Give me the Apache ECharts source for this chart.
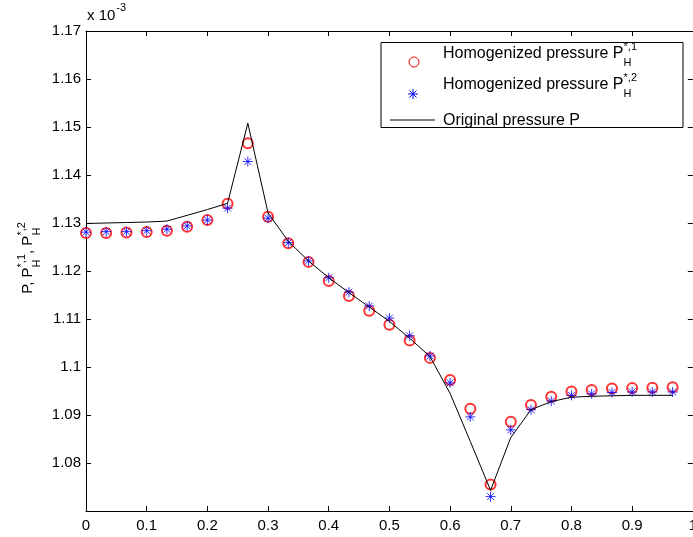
<!DOCTYPE html>
<html>
<head>
<meta charset="utf-8">
<script src="https://cdn.jsdelivr.net/npm/echarts@6/dist/echarts.min.js"></script>
<style>
html, body { margin: 0; padding: 0; overflow: hidden; background: #fff; }
#chart { width: 700px; height: 537px; }
</style>
</head>
<body>
<div id="chart"></div>
<script>
// Sample positions along the domain
const xPositions = [0, 0.0333, 0.0667, 0.1, 0.1333, 0.1667, 0.2, 0.2333, 0.2667, 0.3,
  0.3333, 0.3667, 0.4, 0.4333, 0.4667, 0.5, 0.5333, 0.5667, 0.6, 0.6333,
  0.6667, 0.7, 0.7333, 0.7667, 0.8, 0.8333, 0.8667, 0.9, 0.9333, 0.9667];

// Homogenized pressure P_H^{*,1}  (units of 1e-3)
const homogenized1 = [1.1279, 1.1279, 1.1280, 1.1281, 1.1284, 1.1292, 1.1306, 1.1340, 1.1466, 1.1313,
  1.1258, 1.1219, 1.1179, 1.1148, 1.1117, 1.1088, 1.1055, 1.1019, 1.0973, 1.0913,
  1.0755, 1.0886, 1.0921, 1.0938, 1.0949, 1.0952, 1.0955, 1.0956, 1.0957, 1.0958];

// Homogenized pressure P_H^{*,2}
const homogenized2 = [1.1281, 1.1282, 1.1282, 1.1284, 1.1287, 1.1294, 1.1306, 1.1331, 1.1428, 1.1310,
  1.1259, 1.1221, 1.1186, 1.1156, 1.1127, 1.1102, 1.1065, 1.1023, 1.0967, 1.0896,
  1.0730, 1.0869, 1.0911, 1.0929, 1.0941, 1.0944, 1.0947, 1.0948, 1.0948, 1.0948];

// Original pressure P
const original = [1.1299, 1.1300, 1.1301, 1.1302, 1.1304, 1.1316, 1.1328, 1.1341, 1.1508, 1.1321,
  1.1262, 1.1221, 1.1186, 1.1155, 1.1125, 1.1095, 1.1060, 1.1022, 1.0945, 1.0845,
  1.0743, 1.0853, 1.0911, 1.0928, 1.0937, 1.0939, 1.0940, 1.0941, 1.0941, 1.0941];

const xTicks = { min: 0, max: 1, step: 0.1 };
const yTicks = { min: 1.07, max: 1.17, step: 0.01 };

const FONT = '"Liberation Sans", Arial, Helvetica, sans-serif';
const ASTERISK = 'path://M5,0L5,10M0,5L10,5M1.6,1.6L8.4,8.4M1.6,8.4L8.4,1.6';

const pair = (xs, ys) => xs.map((x, i) => [x, ys[i]]);

// text width helper for placing sub/superscripts
const measureCtx = document.createElement('canvas').getContext('2d');
function textWidth(str, size) {
  measureCtx.font = size + 'px ' + FONT;
  return measureCtx.measureText(str).width;
}

// "base" followed by a stacked superscript / subscript, laid out left to right
function scriptRun(pieces, x0, yMid, baseSize, smallSize, supDy, subDy) {
  const out = [];
  let x = x0;
  pieces.forEach(p => {
    if (p.base) {
      out.push({ type: 'text', x: x, y: yMid,
        style: { text: p.base, font: baseSize + 'px ' + FONT, fill: '#000', textVerticalAlign: 'middle' } });
      x += textWidth(p.base, baseSize);
    } else {
      out.push({ type: 'text', x: x, y: yMid + supDy,
        style: { text: p.sup, font: smallSize + 'px ' + FONT, fill: '#000', textVerticalAlign: 'middle' } });
      out.push({ type: 'text', x: x, y: yMid + subDy,
        style: { text: p.sub, font: smallSize + 'px ' + FONT, fill: '#000', textVerticalAlign: 'middle' } });
      x += Math.max(textWidth(p.sup, smallSize), textWidth(p.sub, smallSize));
    }
  });
  return { elements: out, width: x - x0 };
}

// asterisk glyph built from four short strokes
function asteriskIcon(cx, cy, r, color) {
  const d = r * 0.7;
  const seg = (x1, y1, x2, y2) => ({ type: 'line', shape: { x1, y1, x2, y2 },
    style: { stroke: color, lineWidth: 1 } });
  return [
    seg(cx, cy - r, cx, cy + r), seg(cx - r, cy, cx + r, cy),
    seg(cx - d, cy - d, cx + d, cy + d), seg(cx - d, cy + d, cx + d, cy - d)
  ];
}

// Legend box
const legendEls = [
  { type: 'rect', shape: { x: 381, y: 42.5, width: 302, height: 85 },
    style: { fill: '#fff', stroke: '#000', lineWidth: 1 } },
  { type: 'circle', shape: { cx: 414, cy: 62, r: 5 },
    style: { fill: 'none', stroke: '#ff0000', lineWidth: 1 } },
  ...asteriskIcon(413, 94, 5, '#0000ff'),
  { type: 'line', shape: { x1: 390, y1: 120, x2: 435, y2: 120 },
    style: { stroke: '#000', lineWidth: 1 } }
];
legendEls.push(...scriptRun([{ base: 'Homogenized pressure P' }, { sup: '*,1', sub: 'H' }], 443, 53.5, 16, 11, -7, 9).elements);
legendEls.push(...scriptRun([{ base: 'Homogenized pressure P' }, { sup: '*,2', sub: 'H' }], 443, 85, 16, 11, -7, 9).elements);
legendEls.push(...scriptRun([{ base: 'Original pressure P' }], 443, 120.5, 16, 11, 0, 0).elements);

// Rotated y-axis title: P, P_H^{*,1}, P_H^{*,2}
const titleRun = scriptRun([
  { base: 'P, P' }, { sup: '*,1', sub: 'H' }, { base: ', P' }, { sup: '*,2', sub: 'H' }
], 0, 0, 15, 11, -6, 9);
titleRun.elements.forEach(e => { e.x -= titleRun.width / 2; });

// Exponent note above the y axis
const exponentEls = scriptRun([{ base: 'x 10' }], 87, 16, 15, 11, 0, 0).elements;
exponentEls.push({ type: 'text', x: 87 + textWidth('x 10', 15) + 1, y: 8,
  style: { text: '-3', font: '11px ' + FONT, fill: '#000', textVerticalAlign: 'middle' } });

const chart = echarts.init(document.getElementById('chart'), null, { renderer: 'canvas' });

const axisBase = {
  type: 'value',
  axisLine: { show: true, onZero: false, lineStyle: { color: '#000', width: 1 } },
  axisTick: { show: true, inside: true, length: 5, lineStyle: { color: '#000', width: 1 } },
  splitLine: { show: false },
  axisLabel: { color: '#000', fontFamily: FONT, fontSize: 15 }
};

chart.setOption({
  animation: false,
  backgroundColor: '#fff',
  grid: { left: 86, right: 4, top: 31, bottom: 26, containLabel: false },
  xAxis: [
    Object.assign({}, axisBase, {
      position: 'bottom', min: xTicks.min, max: xTicks.max, interval: xTicks.step,
      axisLabel: Object.assign({}, axisBase.axisLabel, { margin: 7,
        formatter: v => String(+v.toFixed(2)) })
    }),
    Object.assign({}, axisBase, {
      position: 'top', min: xTicks.min, max: xTicks.max, interval: xTicks.step,
      axisLabel: { show: false }
    })
  ],
  yAxis: [
    Object.assign({}, axisBase, {
      position: 'left', min: yTicks.min, max: yTicks.max, interval: yTicks.step,
      axisLabel: Object.assign({}, axisBase.axisLabel, { margin: 5,
        formatter: v => (Math.abs(v - yTicks.min) < 1e-9 ? '' : String(+v.toFixed(2))) })
    }),
    Object.assign({}, axisBase, {
      position: 'right', min: yTicks.min, max: yTicks.max, interval: yTicks.step,
      axisLabel: { show: false }
    })
  ],
  series: [
    {
      name: 'Homogenized pressure P_H^{*,1}', type: 'scatter',
      data: pair(xPositions, homogenized1),
      symbol: 'emptyCircle', symbolSize: 10,
      itemStyle: { color: '#ff0000', borderColor: '#ff0000', borderWidth: 1 },
      z: 2
    },
    {
      name: 'Homogenized pressure P_H^{*,2}', type: 'scatter',
      data: pair(xPositions, homogenized2),
      symbol: ASTERISK, symbolSize: 10,
      itemStyle: { color: 'rgba(0,0,0,0)', borderColor: '#0000ff', borderWidth: 1 },
      z: 3
    },
    {
      name: 'Original pressure P', type: 'line',
      data: pair(xPositions, original),
      symbol: 'none', lineStyle: { color: '#000', width: 1 },
      z: 4
    }
  ],
  graphic: [
    { type: 'group', x: 28, y: 258, rotation: Math.PI / 2, children: titleRun.elements },
    { type: 'group', children: exponentEls },
    { type: 'group', z: 100, children: legendEls }
  ]
});
</script>
</body>
</html>
